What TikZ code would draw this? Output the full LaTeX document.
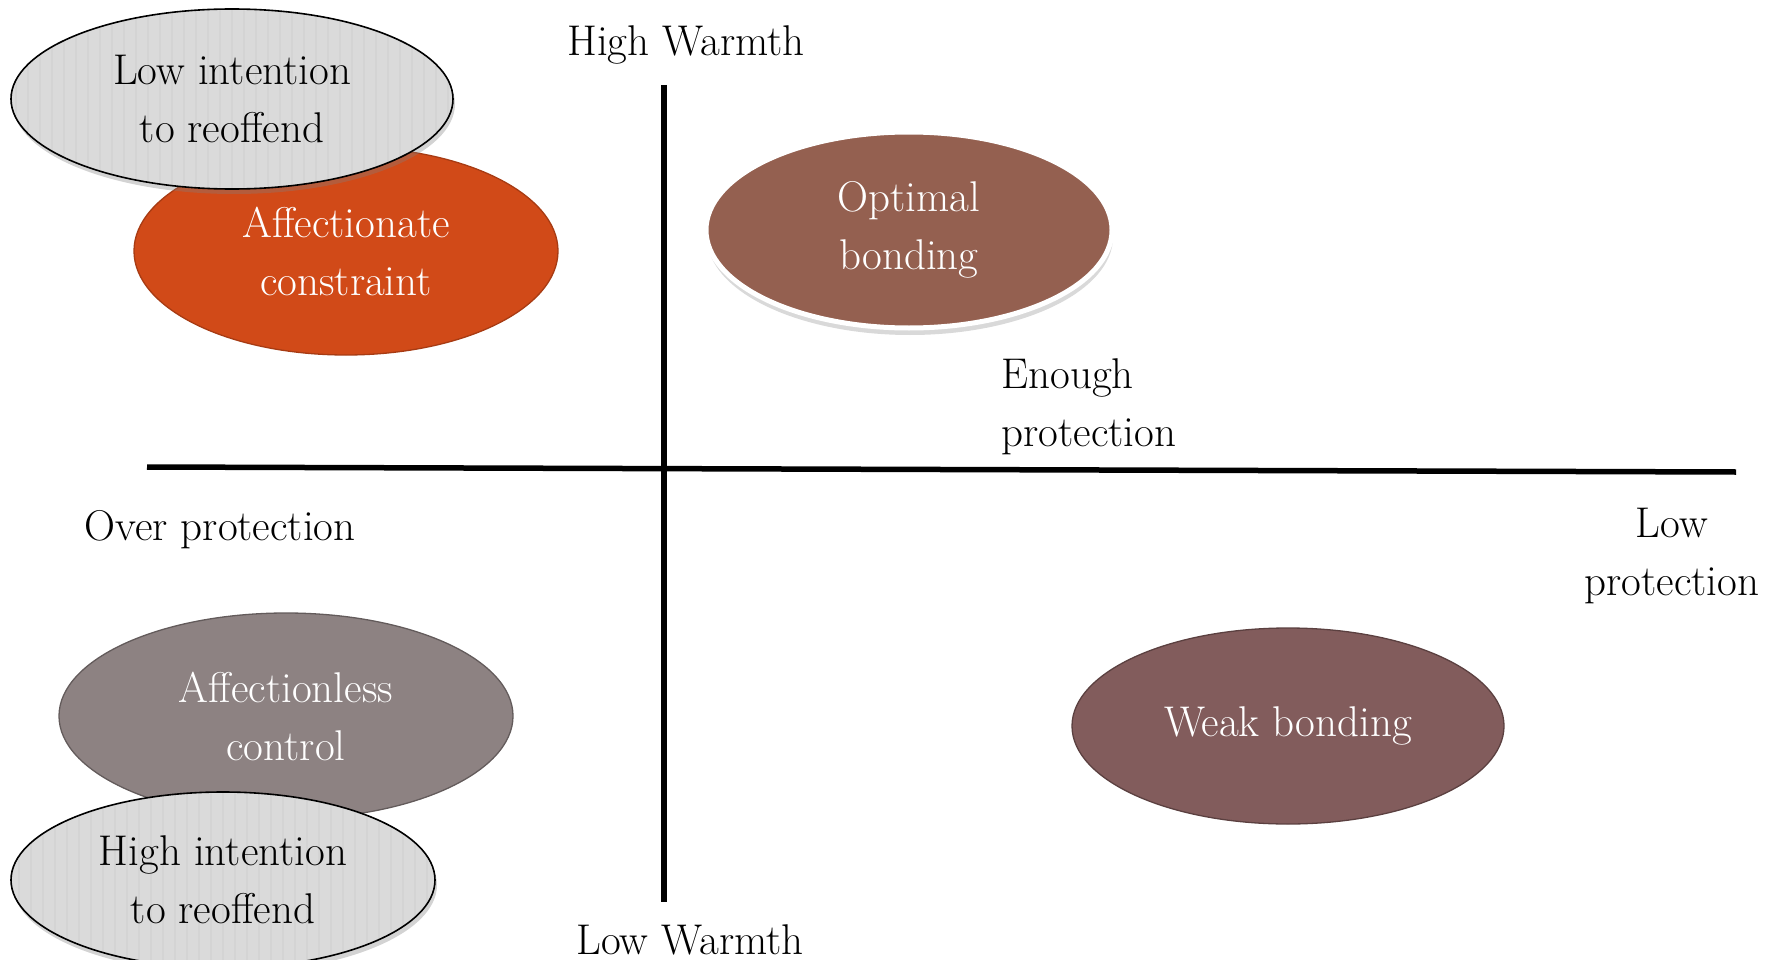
\documentclass[tikz,border=0pt]{standalone}
\usepackage{fontspec}
\usetikzlibrary{shapes.geometric,shadows}
\definecolor{constraintred}{RGB}{209,74,24}
\definecolor{optimalbrown}{RGB}{148,96,80}
\definecolor{controlgray}{RGB}{141,130,130}
\definecolor{weakbrown}{RGB}{130,92,92}
\definecolor{stripegray}{RGB}{218,218,218}

\begin{document}
\begin{tikzpicture}[x=1pt,y=-1pt,
  every node/.style={font=\fontsize{43}{58}\selectfont,align=center},
  blob/.style={ellipse,inner sep=0,text=white,line width=1.3pt},
  striped/.style={ellipse,inner sep=0,draw=black,line width=1.6pt,fill=stripegray,
    drop shadow={opacity=.35,shadow xshift=2pt,shadow yshift=-5pt},
    path picture={\foreach \s in {-300,-288,...,300}
      \draw[black!17,line width=1.8pt] ([xshift=\s pt]path picture bounding box.north) -- ([xshift=\s pt]path picture bounding box.south);}},
  axis/.style={line width=5.5pt}]
\useasboundingbox (0,0) rectangle (1779,960);

% Nodes
\node[blob,fill=constraintred,draw=constraintred!80!black,minimum width=424pt,minimum height=208pt] (affcons) at (346,251) {Affectionate\\constraint};
\node[striped,minimum width=442pt,minimum height=180pt] (lowint) at (232,99) {Low intention\\to reoffend};

\node[blob,fill=optimalbrown,draw=white,line width=5pt,minimum width=406pt,minimum height=196pt,
  drop shadow={opacity=.3,shadow xshift=1pt,shadow yshift=-7pt}] (optbond) at (909,230) {Optimal\\bonding};

\node[blob,fill=controlgray,draw=controlgray!70!black,minimum width=454pt,minimum height=206pt] (afflss) at (286,716) {Affectionless\\control};
\node[striped,minimum width=424pt,minimum height=176pt] (highint) at (223,880) {High intention\\to reoffend};

\node[blob,fill=weakbrown,draw=weakbrown!70!black,minimum width=432pt,minimum height=196pt] (weakbond) at (1288,726) {Weak bonding};

% labels
\node (highw) at (686,45) {High Warmth};
\node (loww) at (690,940) {Low Warmth};
\node[align=left,anchor=west] (enough) at (998,407) {Enough\\protection};
\node (overp) at (220,530) {Over protection};
\node (lowp) at (1672,556) {Low\\protection};

%axes
\coordinate (ytop) at (664,85);
\coordinate (ybot) at (664,902);
\coordinate (xleft) at (147,467);
\coordinate (xright) at (1736,472);
\draw[axis] (ytop) -- (ybot);
\draw[axis] (xleft) -- (xright);

\end{tikzpicture}
\end{document}
